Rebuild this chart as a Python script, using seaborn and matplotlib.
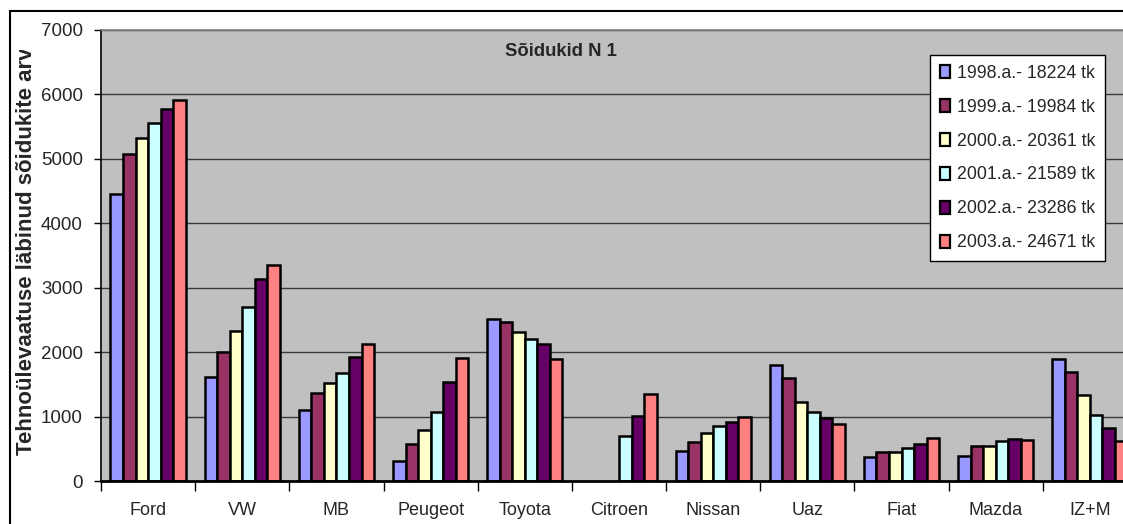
import matplotlib
matplotlib.use("Agg")
import matplotlib.pyplot as plt
import seaborn as sns
import pandas as pd
from matplotlib.patches import Patch, Rectangle
from matplotlib.transforms import Bbox

brands = ["Ford", "VW", "MB", "Peugeot", "Toyota", "Citroen", "Nissan", "Uaz", "Fiat", "Mazda", "IZ+M"]
series = ["1998.a.- 18224 tk", "1999.a.- 19984 tk", "2000.a.- 20361 tk",
          "2001.a.- 21589 tk", "2002.a.- 23286 tk", "2003.a.- 24671 tk"]
v1998 = [4450, 1610, 1100, 310, 2510, 0, 460, 1800, 370, 385, 1895]
v1999 = [5070, 1995, 1365, 570, 2465, 0, 605, 1600, 450, 540, 1690]
v2000 = [5330, 2325, 1520, 790, 2305, 0, 740, 1220, 455, 540, 1340]
v2001 = [5550, 2700, 1680, 1065, 2205, 700, 860, 1075, 505, 615, 1030]
v2002 = [5775, 3130, 1925, 1540, 2125, 1015, 915, 975, 580, 650, 815]
v2003 = [5920, 3360, 2120, 1915, 1900, 1350, 1000, 880, 675, 640, 625]
colors = ["#9999FF", "#993366", "#FFFFCC", "#CCFFFF", "#660066", "#FF8080"]

rows = []
for s, vals in zip(series, [v1998, v1999, v2000, v2001, v2002, v2003]):
    for b, v in zip(brands, vals):
        rows.append({"brand": b, "series": s, "value": v})
df = pd.DataFrame(rows)

sns.set_theme(style="white")
plt.rcParams["font.family"] = ["Liberation Sans", "DejaVu Sans"]

W, H = 1123, 524
fig = plt.figure(figsize=(W / 100, H / 100), dpi=100)
x0, x1, ytop, ybot = 101, 1137, 30, 481
ax = fig.add_axes([x0 / W, 1 - ybot / H, (x1 - x0) / W, (ybot - ytop) / H])
ax.set_facecolor("#C0C0C0")

sns.barplot(data=df, x="brand", y="value", hue="series", palette=colors,
            order=brands, hue_order=series, width=0.8, ax=ax,
            edgecolor="black", linewidth=1.8, legend=False, saturation=1)

# hide zero-height bars (empty Citroen values)
for cont in ax.containers:
    for p in cont.patches:
        if p.get_height() == 0:
            p.set_visible(False)

ax.set_xlim(-0.5, len(brands) - 0.5)
ax.set_ylim(0, 7000)
ax.set_yticks(range(0, 7001, 1000))
ax.grid(False)
for yv in range(1000, 7001, 1000):
    ax.axhline(yv, color="#3a3a3a", lw=1.0, zorder=0)

# x ticks at boundaries, labels at centres
ax.set_xticks([i - 0.5 for i in range(len(brands) + 1)])
ax.set_xticklabels([])
ax.set_xticks(range(len(brands)), minor=True)
ax.set_xticklabels(brands, minor=True, fontsize=13)
ax.tick_params(axis="x", which="major", direction="out", length=7, width=1, color="black", bottom=True)
ax.tick_params(axis="x", which="minor", length=0, pad=15)
ax.tick_params(axis="y", direction="out", length=5, width=1, color="black", left=True, labelsize=13.5, pad=8)

ax.set_xlabel("")
ax.set_ylabel("")
yl = fig.text(27 / W, 1 - 455 / H, "Tehnoülevaatuse läbinud sõidukite arv",
              rotation=90, ha="center", va="bottom", fontsize=16, fontweight="bold")
yl.set_clip_on(True)
yl.set_clip_box(Bbox.from_extents(0, 0, W, H - 50))

for side in ["left", "bottom"]:
    ax.spines[side].set_color("black")
ax.spines["left"].set_linewidth(1.2)
ax.spines["bottom"].set_linewidth(2.0)
ax.spines["top"].set_color("#808080")
ax.spines["top"].set_linewidth(1.2)
ax.spines["right"].set_visible(False)

ax.text((561 - x0) / (x1 - x0), 1 - (51 - ytop) / (ybot - ytop), "Sõidukid N 1",
        transform=ax.transAxes, ha="center", va="center", fontsize=13.3, fontweight="bold")

handles = [Patch(facecolor=c, edgecolor="black", linewidth=1.6) for c in colors]
leg = ax.legend(handles, series, loc="upper right",
                bbox_to_anchor=((1105 - x0) / (x1 - x0), (ybot - 55) / (ybot - ytop)),
                fontsize=12.8, frameon=True, fancybox=False, framealpha=1,
                edgecolor="black", handlelength=0.55, handleheight=0.75,
                handletextpad=0.4, labelspacing=0.95, borderpad=0.55, borderaxespad=0)
leg.get_frame().set_linewidth(1.0)

# outer chart border
fig.patches.append(Rectangle((10 / W, -0.5), 2, 0.5 + (1 - 11 / H), transform=fig.transFigure,
                             fill=False, edgecolor="black", lw=1.5, zorder=10))

fig.savefig("out.png", dpi=100)
